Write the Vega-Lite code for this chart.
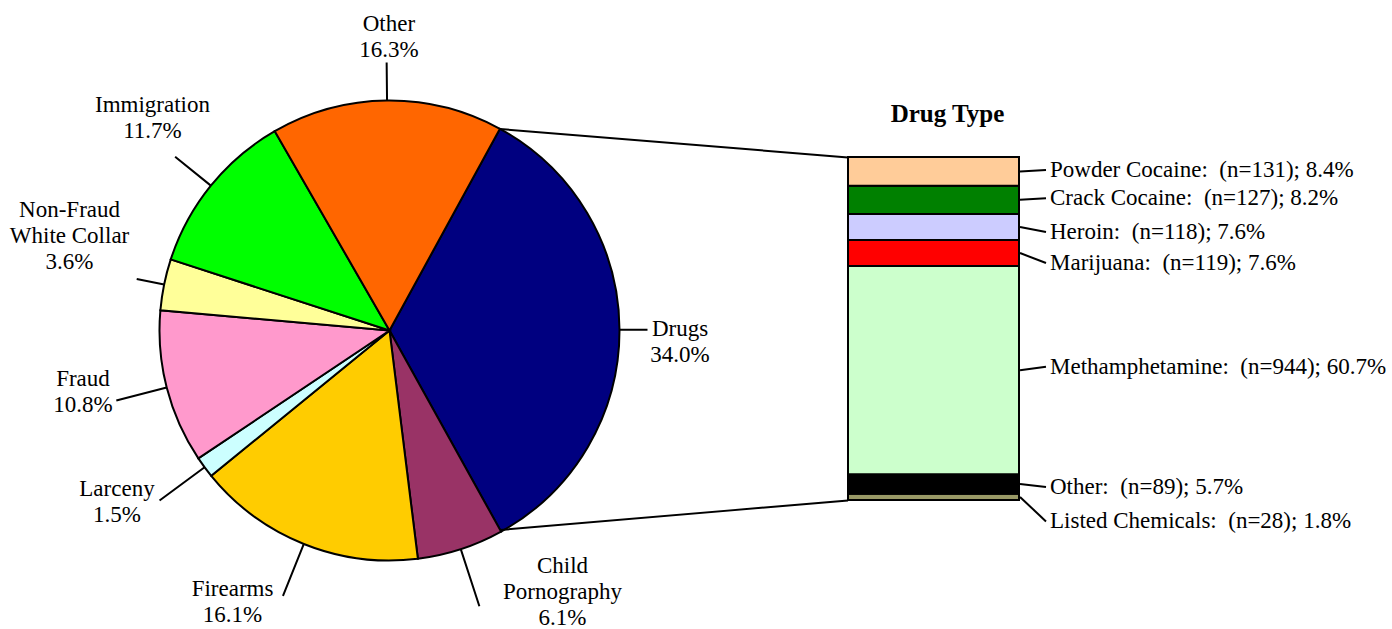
{
  "$schema": "https://vega.github.io/schema/vega-lite/v6.json",
  "width": 1392,
  "height": 629,
  "padding": 0,
  "autosize": {"type": "none"},
  "background": "white",
  "config": {
    "view": {"stroke": null},
    "text": {"font": "Liberation Serif", "fontSize": 23, "color": "black"}
  },
  "datasets": {
    "offenses": [
      {"offense": "Drugs", "share": 0.340, "rank": 1, "label": "Drugs\n34.0%"},
      {"offense": "Child Pornography", "share": 0.061, "rank": 2, "label": "Child\nPornography\n6.1%"},
      {"offense": "Firearms", "share": 0.161, "rank": 3, "label": "Firearms\n16.1%"},
      {"offense": "Larceny", "share": 0.015, "rank": 4, "label": "Larceny\n1.5%"},
      {"offense": "Fraud", "share": 0.108, "rank": 5, "label": "Fraud\n10.8%"},
      {"offense": "Non-Fraud White Collar", "share": 0.036, "rank": 6, "label": "Non-Fraud\nWhite Collar\n3.6%"},
      {"offense": "Immigration", "share": 0.117, "rank": 7, "label": "Immigration\n11.7%"},
      {"offense": "Other", "share": 0.163, "rank": 8, "label": "Other\n16.3%"}
    ],
    "drugs": [
      {"drug": "Listed Chemicals", "n": 28, "pct": 1.8, "rank": 1, "label": "Listed Chemicals:\u00a0 (n=28); 1.8%"},
      {"drug": "Other", "n": 89, "pct": 5.7, "rank": 2, "label": "Other:\u00a0 (n=89); 5.7%"},
      {"drug": "Methamphetamine", "n": 944, "pct": 60.7, "rank": 3, "label": "Methamphetamine:\u00a0 (n=944); 60.7%"},
      {"drug": "Marijuana", "n": 119, "pct": 7.6, "rank": 4, "label": "Marijuana:\u00a0 (n=119); 7.6%"},
      {"drug": "Heroin", "n": 118, "pct": 7.6, "rank": 5, "label": "Heroin:\u00a0 (n=118); 7.6%"},
      {"drug": "Crack Cocaine", "n": 127, "pct": 8.2, "rank": 6, "label": "Crack Cocaine:\u00a0 (n=127); 8.2%"},
      {"drug": "Powder Cocaine", "n": 131, "pct": 8.4, "rank": 7, "label": "Powder Cocaine:\u00a0 (n=131); 8.4%"}
    ]
  },
  "layer": [
    {
      "data": {"name": "offenses"},
      "transform": [
        {"stack": "share", "groupby": [], "sort": [{"field": "rank", "order": "ascending"}], "as": ["a0", "a1"]}
      ],
      "layer": [
        {
          "mark": {"type": "arc", "radius": 230, "stroke": "black", "strokeWidth": 2},
          "encoding": {
            "x": {"datum": 389.5, "type": "quantitative", "scale": {"domain": [0, 1392], "nice": false, "zero": false}, "axis": null},
            "y": {"datum": 330.5, "type": "quantitative", "scale": {"domain": [0, 629], "nice": false, "zero": false, "reverse": true}, "axis": null},
            "theta": {"field": "a0", "type": "quantitative", "stack": null, "scale": {"domain": [0, 1.001], "range": [0.5009, 6.7841], "nice": false, "zero": false}},
            "theta2": {"field": "a1"},
            "color": {
              "field": "offense", "type": "nominal", "legend": null,
              "scale": {
                "domain": ["Drugs", "Child Pornography", "Firearms", "Larceny", "Fraud", "Non-Fraud White Collar", "Immigration", "Other"],
                "range": ["#000080", "#993366", "#FFCC00", "#CCFFFF", "#FF99CC", "#FFFF99", "#00FF00", "#FF6600"]
              }
            }
          }
        },
        {
          "transform": [
            {"fold": ["a0", "a1"], "as": ["edge", "angle"]},
            {"aggregate": [{"op": "mean", "field": "angle", "as": "mid"}], "groupby": ["offense", "label"]}
          ],
          "encoding": {
            "x": {"datum": 389.5, "type": "quantitative", "scale": {"domain": [0, 1392], "nice": false, "zero": false}, "axis": null},
            "y": {"datum": 330.5, "type": "quantitative", "scale": {"domain": [0, 629], "nice": false, "zero": false, "reverse": true}, "axis": null},
            "theta": {"field": "mid", "type": "quantitative", "stack": null, "scale": {"domain": [0, 1.001], "range": [0.5009, 6.7841], "nice": false, "zero": false}}
          },
          "layer": [
            {"transform": [{"filter": {"field": "offense", "oneOf": ["Drugs", "Non-Fraud White Collar"]}}],
             "mark": {"type": "arc", "radius": 258, "radius2": 230, "filled": false, "stroke": "black", "strokeWidth": 2},
             "encoding": {"theta2": {"field": "mid"}}},
            {"transform": [{"filter": {"field": "offense", "oneOf": ["Other"]}}],
             "mark": {"type": "arc", "radius": 268, "radius2": 230, "filled": false, "stroke": "black", "strokeWidth": 2},
             "encoding": {"theta2": {"field": "mid"}}},
            {"transform": [{"filter": {"field": "offense", "oneOf": ["Immigration"]}}],
             "mark": {"type": "arc", "radius": 276, "radius2": 230, "filled": false, "stroke": "black", "strokeWidth": 2},
             "encoding": {"theta2": {"field": "mid"}}},
            {"transform": [{"filter": {"field": "offense", "oneOf": ["Fraud"]}}],
             "mark": {"type": "arc", "radius": 282, "radius2": 230, "filled": false, "stroke": "black", "strokeWidth": 2},
             "encoding": {"theta2": {"field": "mid"}}},
            {"transform": [{"filter": {"field": "offense", "oneOf": ["Firearms", "Larceny"]}}],
             "mark": {"type": "arc", "radius": 286, "radius2": 230, "filled": false, "stroke": "black", "strokeWidth": 2},
             "encoding": {"theta2": {"field": "mid"}}},
            {"transform": [{"filter": {"field": "offense", "oneOf": ["Child Pornography"]}}],
             "mark": {"type": "arc", "radius": 290, "radius2": 230, "filled": false, "stroke": "black", "strokeWidth": 2},
             "encoding": {"theta2": {"field": "mid"}}},
            {"transform": [{"filter": "datum.offense === 'Drugs'"}],
             "mark": {"type": "text", "radius": 230, "align": "center", "baseline": "alphabetic", "lineBreak": "\n", "lineHeight": 26, "dx": 60.5, "dy": 5.8},
             "encoding": {"text": {"field": "label", "type": "nominal"}}},
            {"transform": [{"filter": "datum.offense === 'Child Pornography'"}],
             "mark": {"type": "text", "radius": 230, "align": "center", "baseline": "alphabetic", "lineBreak": "\n", "lineHeight": 26, "dx": 101.7, "dy": 24.1},
             "encoding": {"text": {"field": "label", "type": "nominal"}}},
            {"transform": [{"filter": "datum.offense === 'Firearms'"}],
             "mark": {"type": "text", "radius": 230, "align": "center", "baseline": "alphabetic", "lineBreak": "\n", "lineHeight": 26, "dx": -71.3, "dy": 52.1},
             "encoding": {"text": {"field": "label", "type": "nominal"}}},
            {"transform": [{"filter": "datum.offense === 'Larceny'"}],
             "mark": {"type": "text", "radius": 230, "align": "center", "baseline": "alphabetic", "lineBreak": "\n", "lineHeight": 26, "dx": -87.6, "dy": 28.7},
             "encoding": {"text": {"field": "label", "type": "nominal"}}},
            {"transform": [{"filter": "datum.offense === 'Fraud'"}],
             "mark": {"type": "text", "radius": 230, "align": "center", "baseline": "alphabetic", "lineBreak": "\n", "lineHeight": 26, "dx": -83.7, "dy": -1.6},
             "encoding": {"text": {"field": "label", "type": "nominal"}}},
            {"transform": [{"filter": "datum.offense === 'Non-Fraud White Collar'"}],
             "mark": {"type": "text", "radius": 230, "align": "center", "baseline": "alphabetic", "lineBreak": "\n", "lineHeight": 26, "dx": -94.6, "dy": -67.2},
             "encoding": {"text": {"field": "label", "type": "nominal"}}},
            {"transform": [{"filter": "datum.offense === 'Immigration'"}],
             "mark": {"type": "text", "radius": 230, "align": "center", "baseline": "alphabetic", "lineBreak": "\n", "lineHeight": 26, "dx": -58.4, "dy": -73.9},
             "encoding": {"text": {"field": "label", "type": "nominal"}}},
            {"transform": [{"filter": "datum.offense === 'Other'"}],
             "mark": {"type": "text", "radius": 230, "align": "center", "baseline": "alphabetic", "lineBreak": "\n", "lineHeight": 26, "dx": 1.9, "dy": -70},
             "encoding": {"text": {"field": "label", "type": "nominal"}}}
          ]
        }
      ]
    },
    {
      "data": {"name": "drugs"},
      "transform": [
        {"stack": "pct", "groupby": [], "sort": [{"field": "rank", "order": "ascending"}], "as": ["b0", "b1"]}
      ],
      "layer": [
        {
          "mark": {"type": "rect", "stroke": "black", "strokeWidth": 2},
          "encoding": {
            "x": {"datum": 848, "type": "quantitative", "scale": {"domain": [0, 1392], "nice": false, "zero": false}, "axis": null},
            "x2": {"datum": 1019},
            "y": {"field": "b0", "type": "quantitative", "scale": {"domain": [-37.61, 145.77], "nice": false, "zero": false}, "axis": null},
            "y2": {"field": "b1"},
            "color": {
              "field": "drug", "type": "nominal", "legend": null,
              "scale": {
                "domain": ["Listed Chemicals", "Other", "Methamphetamine", "Marijuana", "Heroin", "Crack Cocaine", "Powder Cocaine"],
                "range": ["#999966", "#000000", "#CCFFCC", "#FF0000", "#CCCCFF", "#008000", "#FFCC99"]
              }
            }
          }
        },
        {
          "transform": [
            {"fold": ["b0", "b1"], "as": ["edge", "level"]},
            {"aggregate": [{"op": "mean", "field": "level", "as": "mid"}], "groupby": ["drug", "label"]}
          ],
          "encoding": {
            "y": {"field": "mid", "type": "quantitative", "scale": {"domain": [-37.61, 145.77], "nice": false, "zero": false}, "axis": null}
          },
          "layer": [
            {"transform": [{"filter": {"field": "drug", "oneOf": ["Powder Cocaine", "Crack Cocaine"]}}],
             "layer": [
               {"mark": {"type": "rule", "stroke": "black", "strokeWidth": 2, "y2Offset": -1.5},
                "encoding": {"x": {"datum": 1020, "type": "quantitative", "scale": {"domain": [0, 1392], "nice": false, "zero": false}, "axis": null}, "x2": {"datum": 1046}, "y2": {"field": "mid"}}},
               {"mark": {"type": "text", "align": "left", "baseline": "middle", "dy": -1.5},
                "encoding": {"x": {"datum": 1050, "type": "quantitative", "scale": {"domain": [0, 1392], "nice": false, "zero": false}, "axis": null}, "text": {"field": "label", "type": "nominal"}}}
             ]},
            {"transform": [{"filter": {"field": "drug", "oneOf": ["Other"]}}],
             "layer": [
               {"mark": {"type": "rule", "stroke": "black", "strokeWidth": 2, "y2Offset": 3},
                "encoding": {"x": {"datum": 1020, "type": "quantitative", "scale": {"domain": [0, 1392], "nice": false, "zero": false}, "axis": null}, "x2": {"datum": 1046}, "y2": {"field": "mid"}}},
               {"mark": {"type": "text", "align": "left", "baseline": "middle", "dy": 3},
                "encoding": {"x": {"datum": 1050, "type": "quantitative", "scale": {"domain": [0, 1392], "nice": false, "zero": false}, "axis": null}, "text": {"field": "label", "type": "nominal"}}}
             ]},
            {"transform": [{"filter": {"field": "drug", "oneOf": ["Heroin"]}}],
             "layer": [
               {"mark": {"type": "rule", "stroke": "black", "strokeWidth": 2, "y2Offset": 5},
                "encoding": {"x": {"datum": 1020, "type": "quantitative", "scale": {"domain": [0, 1392], "nice": false, "zero": false}, "axis": null}, "x2": {"datum": 1046}, "y2": {"field": "mid"}}},
               {"mark": {"type": "text", "align": "left", "baseline": "middle", "dy": 5},
                "encoding": {"x": {"datum": 1050, "type": "quantitative", "scale": {"domain": [0, 1392], "nice": false, "zero": false}, "axis": null}, "text": {"field": "label", "type": "nominal"}}}
             ]},
            {"transform": [{"filter": {"field": "drug", "oneOf": ["Marijuana"]}}],
             "layer": [
               {"mark": {"type": "rule", "stroke": "black", "strokeWidth": 2, "y2Offset": 10},
                "encoding": {"x": {"datum": 1020, "type": "quantitative", "scale": {"domain": [0, 1392], "nice": false, "zero": false}, "axis": null}, "x2": {"datum": 1046}, "y2": {"field": "mid"}}},
               {"mark": {"type": "text", "align": "left", "baseline": "middle", "dy": 10},
                "encoding": {"x": {"datum": 1050, "type": "quantitative", "scale": {"domain": [0, 1392], "nice": false, "zero": false}, "axis": null}, "text": {"field": "label", "type": "nominal"}}}
             ]},
            {"transform": [{"filter": {"field": "drug", "oneOf": ["Methamphetamine"]}}],
             "layer": [
               {"mark": {"type": "rule", "stroke": "black", "strokeWidth": 2, "y2Offset": -3.5},
                "encoding": {"x": {"datum": 1020, "type": "quantitative", "scale": {"domain": [0, 1392], "nice": false, "zero": false}, "axis": null}, "x2": {"datum": 1046}, "y2": {"field": "mid"}}},
               {"mark": {"type": "text", "align": "left", "baseline": "middle", "dy": -3.5},
                "encoding": {"x": {"datum": 1050, "type": "quantitative", "scale": {"domain": [0, 1392], "nice": false, "zero": false}, "axis": null}, "text": {"field": "label", "type": "nominal"}}}
             ]},
            {"transform": [{"filter": {"field": "drug", "oneOf": ["Listed Chemicals"]}}],
             "layer": [
               {"mark": {"type": "rule", "stroke": "black", "strokeWidth": 2, "y2Offset": 24.5},
                "encoding": {"x": {"datum": 1020, "type": "quantitative", "scale": {"domain": [0, 1392], "nice": false, "zero": false}, "axis": null}, "x2": {"datum": 1046}, "y2": {"field": "mid"}}},
               {"mark": {"type": "text", "align": "left", "baseline": "middle", "dy": 24.5},
                "encoding": {"x": {"datum": 1050, "type": "quantitative", "scale": {"domain": [0, 1392], "nice": false, "zero": false}, "axis": null}, "text": {"field": "label", "type": "nominal"}}}
             ]}
          ]
        }
      ]
    },
    {
      "data": {"values": [{}]},
      "layer": [
        {"mark": {"type": "rule", "stroke": "black", "strokeWidth": 2},
         "encoding": {
           "x": {"datum": 500, "type": "quantitative", "scale": {"domain": [0, 1392], "nice": false, "zero": false}, "axis": null},
           "x2": {"datum": 848},
           "y": {"datum": 129, "type": "quantitative", "scale": {"domain": [0, 629], "nice": false, "zero": false, "reverse": true}, "axis": null},
           "y2": {"datum": 157.5}
         }},
        {"mark": {"type": "rule", "stroke": "black", "strokeWidth": 2},
         "encoding": {
           "x": {"datum": 500, "type": "quantitative", "scale": {"domain": [0, 1392], "nice": false, "zero": false}, "axis": null},
           "x2": {"datum": 848},
           "y": {"datum": 530, "type": "quantitative", "scale": {"domain": [0, 629], "nice": false, "zero": false, "reverse": true}, "axis": null},
           "y2": {"datum": 500.5}
         }},
        {"mark": {"type": "text", "align": "center", "baseline": "alphabetic", "fontWeight": "bold", "fontSize": 25},
         "encoding": {
           "x": {"datum": 947.5, "type": "quantitative", "scale": {"domain": [0, 1392], "nice": false, "zero": false}, "axis": null},
           "y": {"datum": 122, "type": "quantitative", "scale": {"domain": [0, 629], "nice": false, "zero": false, "reverse": true}, "axis": null},
           "text": {"value": "Drug Type"}
         }}
      ]
    }
  ],
  "resolve": {"scale": {"y": "independent", "color": "independent"}}
}
